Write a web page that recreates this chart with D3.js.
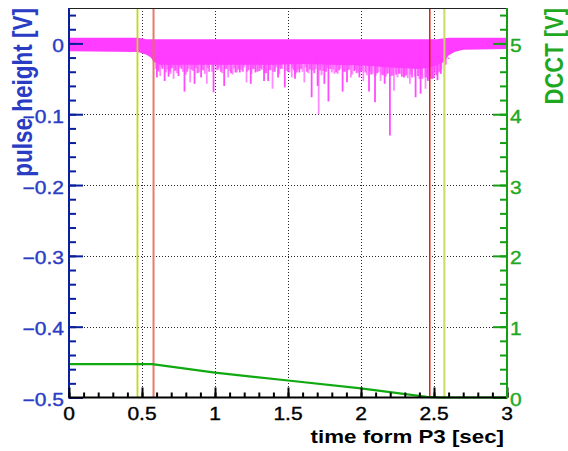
<!DOCTYPE html>
<html><head><meta charset="utf-8">
<script src="https://cdn.jsdelivr.net/npm/d3@7"></script>
<style>html,body{margin:0;padding:0;background:#fff;}svg{display:block;}</style>
</head><body>
<svg id="c" width="568" height="451"></svg>
<script>
// ---------- data ----------
const xTicks = [0, 0.5, 1, 1.5, 2, 2.5, 3];
const xTickLabels = ["0", "0.5", "1", "1.5", "2", "2.5", "3"];
const yLTicks = [0, -0.1, -0.2, -0.3, -0.4, -0.5];
const yLTickLabels = ["0", "\u22120.1", "\u22120.2", "\u22120.3", "\u22120.4", "\u22120.5"];
const yRTicks = [0, 1, 2, 3, 4, 5];
const yRTickLabels = ["0", "1", "2", "3", "4", "5"];

// pulse height envelope (band) [sec], [V]
const envT  = [0, 0.47, 0.50, 0.53, 0.56, 0.58, 0.62, 0.8, 1.0, 1.2, 1.4, 1.6, 1.8, 2.0, 2.2, 2.4, 2.47, 2.52, 2.56, 2.6, 2.64, 2.7, 3.0];
const envHi = [0.008, 0.008, 0.007, 0.006, 0.006, 0.006, 0.006, 0.006, 0.006, 0.006, 0.006, 0.006, 0.006, 0.006, 0.006, 0.006, 0.006, 0.006, 0.007, 0.008, 0.008, 0.008, 0.008];
const envLo = [-0.011, -0.012, -0.014, -0.016, -0.02, -0.026, -0.030, -0.030, -0.030, -0.030, -0.030, -0.029, -0.030, -0.031, -0.034, -0.036, -0.034, -0.031, -0.027, -0.017, -0.012, -0.009, -0.008];

// pulse height: prominent spikes
const spikeT = [0.602, 0.625, 0.655, 0.682, 0.716, 0.750, 0.791, 0.830, 0.860, 0.905, 0.944, 0.990,
  1.063, 1.090, 1.140, 1.170, 1.216, 1.245, 1.277, 1.307, 1.336, 1.364, 1.394, 1.432, 1.478,
  1.526, 1.548, 1.578, 1.612, 1.662, 1.703, 1.710, 1.749, 1.777, 1.818, 1.874, 1.904, 1.931, 1.954, 1.989,
  2.016, 2.055, 2.096, 2.134, 2.162, 2.198, 2.226, 2.260, 2.294, 2.335, 2.374, 2.408, 2.442, 2.458, 2.49,
  2.504, 2.524, 2.547, 2.566];
const spikeV = [-0.048, -0.046, -0.053, -0.047, -0.050, -0.046, -0.068, -0.055, -0.057, -0.048, -0.057, -0.069,
  -0.060, -0.048, -0.041, -0.041, -0.055, -0.057, -0.041, -0.039, -0.053, -0.053, -0.064, -0.048, -0.062,
  -0.048, -0.050, -0.041, -0.055, -0.076, -0.060, -0.100, -0.057, -0.082, -0.043, -0.068, -0.055, -0.048, -0.039, -0.048,
  -0.053, -0.068, -0.083, -0.053, -0.057, -0.130, -0.067, -0.043, -0.048, -0.057, -0.076, -0.071, -0.064, -0.053, -0.05,
  -0.039, -0.052, -0.043, -0.027];
// pulse height: smaller fringe spikes
const fringeT = [0.61, 0.64, 0.69, 0.70, 0.73, 0.77, 0.81, 0.84, 0.88, 0.92, 0.96, 1.02, 1.04, 1.08, 1.11, 1.16, 1.19, 1.23, 1.26, 1.29, 1.32, 1.35, 1.38, 1.41, 1.45, 1.50,
  1.54, 1.56, 1.59, 1.63, 1.65, 1.68, 1.72, 1.76, 1.79, 1.83, 1.85, 1.89, 1.92, 1.97, 2.00, 2.03, 2.07, 2.11, 2.15, 2.18, 2.21, 2.24, 2.28, 2.31, 2.35, 2.39, 2.42, 2.45, 2.48, 2.52, 2.54, 2.58, 2.60];
const fringeV = [-0.038, -0.036, -0.040, -0.035, -0.038, -0.036, -0.040, -0.037, -0.042, -0.038, -0.040, -0.037, -0.040, -0.036, -0.042, -0.037, -0.040, -0.038, -0.036, -0.040, -0.037, -0.042, -0.038, -0.040, -0.036, -0.040,
  -0.038, -0.041, -0.036, -0.040, -0.037, -0.042, -0.038, -0.040, -0.036, -0.041, -0.038, -0.040, -0.037, -0.042, -0.040, -0.041, -0.044, -0.042, -0.045, -0.043, -0.046, -0.044, -0.047, -0.045, -0.048, -0.046, -0.050, -0.048, -0.050, -0.045, -0.040, -0.030, -0.022];
const fringe2T = [0.595, 0.615, 0.635, 0.665, 0.675, 0.695, 0.71, 0.725, 0.74, 0.76, 0.78, 0.80, 0.82, 0.85, 0.87, 0.89, 0.91, 0.93, 0.95, 0.98,
  1.01, 1.03, 1.05, 1.07, 1.10, 1.12, 1.13, 1.15, 1.18, 1.20, 1.22, 1.25, 1.27, 1.30, 1.31, 1.34, 1.37, 1.40, 1.42, 1.44,
  1.46, 1.49, 1.51, 1.53, 1.55, 1.57, 1.60, 1.62, 1.64, 1.67, 1.69, 1.73, 1.74, 1.77, 1.80, 1.81, 1.84, 1.86, 1.88, 1.91,
  1.94, 1.96, 1.98, 2.01, 2.04, 2.06, 2.08, 2.10, 2.12, 2.14, 2.17, 2.19, 2.22, 2.25, 2.27, 2.30, 2.32, 2.34, 2.37, 2.40,
  2.41, 2.44, 2.46, 2.47, 2.50, 2.51, 2.53, 2.55];
const fringe2V = [-0.036, -0.040, -0.034, -0.041, -0.037, -0.043, -0.035, -0.039, -0.042, -0.034, -0.040, -0.044, -0.036, -0.039, -0.035, -0.041, -0.037, -0.043, -0.035, -0.040,
  -0.038, -0.034, -0.042, -0.036, -0.039, -0.044, -0.035, -0.041, -0.037, -0.034, -0.040, -0.043, -0.036, -0.039, -0.035, -0.042, -0.037, -0.040, -0.034, -0.043,
  -0.036, -0.039, -0.041, -0.035, -0.044, -0.037, -0.040, -0.034, -0.042, -0.038, -0.036, -0.045, -0.039, -0.035, -0.041, -0.037, -0.043, -0.036, -0.040, -0.038,
  -0.044, -0.037, -0.041, -0.039, -0.045, -0.040, -0.043, -0.046, -0.041, -0.044, -0.047, -0.042, -0.045, -0.048, -0.043, -0.046, -0.049, -0.044, -0.047, -0.050,
  -0.045, -0.048, -0.051, -0.046, -0.049, -0.044, -0.041, -0.036];

// DCCT
const dcctT = [0, 0.57, 1.0, 1.5, 2.0, 2.45, 2.55, 3.0];
const dcctV = [0.47, 0.47, 0.35, 0.24, 0.13, 0.01, 0.0, 0.0];

// marker lines [sec]
const markerT = [0.469, 0.579, 2.471, 2.571];

// ---------- drawing ----------
const svg = d3.select("#c");
const L = 69, R = 507, T = 8, B = 397.5;
const x = d3.scaleLinear([0, 3], [L, R]);
const yL = d3.scaleLinear([-0.5, 0.05], [B, T]);
const yR = d3.scaleLinear([0, 5.5], [B, T]);

const FONT = "'Liberation Sans', Arial, Helvetica, sans-serif";
const SX = 1.2;
const navy = "#0a1f9c", blueTxt = "#2a3cc4", green = "#12a012", greenTxt = "#1fa81f";

function stext(px, py, str, o) {
  const g = svg.append("g").attr("transform", `translate(${px},${py}) scale(${SX},1)` + (o.rot ? ` rotate(${o.rot})` : ""));
  g.append("text").attr("x", 0).attr("y", 0)
    .attr("text-anchor", o.anchor || "start")
    .attr("font-family", FONT).attr("font-size", o.size).attr("font-weight", o.weight || "normal")
    .attr("fill", o.color || "#000")
    .attr("stroke", o.color || "#000").attr("stroke-width", o.sw || 0)
    .text(str);
}

// grid
const grid = svg.append("g").attr("stroke", "#000").attr("stroke-width", 1).attr("stroke-dasharray", "1,2").attr("opacity", 0.85);
xTicks.filter(d => d > 0 && d < 3).forEach(d => {
  grid.append("line").attr("x1", Math.round(x(d)) + 0.5).attr("x2", Math.round(x(d)) + 0.5).attr("y1", T).attr("y2", B);
});
yLTicks.filter(d => d > -0.5).forEach(d => {
  grid.append("line").attr("y1", Math.round(yL(d)) + 0.5).attr("y2", Math.round(yL(d)) + 0.5).attr("x1", L).attr("x2", R);
});

// pulse height band
const mag = "#ff3cff";
const env = envT.map((t, i) => ({t, hi: envHi[i], lo: envLo[i]}));
svg.append("path").datum(env)
  .attr("d", d3.area().x(d => x(d.t)).y0(d => yL(d.lo)).y1(d => yL(d.hi)))
  .attr("fill", mag);
const sp = svg.append("g").attr("stroke", mag);
fringe2T.forEach((t, i) => {
  sp.append("line").attr("x1", x(t)).attr("x2", x(t)).attr("y1", yL(-0.02)).attr("y2", yL(fringe2V[i]))
    .attr("stroke-width", 2).attr("opacity", 0.6);
});
fringeT.forEach((t, i) => {
  sp.append("line").attr("x1", x(t)).attr("x2", x(t)).attr("y1", yL(-0.02)).attr("y2", yL(fringeV[i]))
    .attr("stroke-width", 2).attr("opacity", 0.8);
});
spikeT.forEach((t, i) => {
  sp.append("line").attr("x1", x(t)).attr("x2", x(t)).attr("y1", yL(-0.02)).attr("y2", yL(spikeV[i]))
    .attr("stroke-width", 1.8).attr("opacity", i % 3 === 1 ? 0.6 : 0.92);
});

// marker lines
const mk = svg.append("g");
[["#c2d81c", 1.8, 1], ["#e46e5c", 2, 0.9], ["#e0200a", 1.5, 1], ["#c8dc58", 2.2, 0.9]].forEach((s, i) => {
  mk.append("line").attr("x1", x(markerT[i])).attr("x2", x(markerT[i])).attr("y1", T).attr("y2", B)
    .attr("stroke", s[0]).attr("stroke-width", s[1]).attr("opacity", s[2]);
});

// DCCT line
svg.append("path").datum(dcctT.map((t, i) => [t, dcctV[i]]))
  .attr("d", d3.line().x(d => x(d[0])).y(d => yR(d[1])))
  .attr("fill", "none").attr("stroke", "#10aa10").attr("stroke-width", 2.2);

// frame top
svg.append("line").attr("x1", L).attr("x2", R).attr("y1", T + 0.5).attr("y2", T + 0.5).attr("stroke", "#222").attr("stroke-width", 1);

// left axis
const ga = svg.append("g");
const yLMinor = d3.range(-0.5, 0.0401, 0.02).map(v => Math.round(v * 100) / 100);
ga.append("g").attr("transform", `translate(${L},0)`)
  .call(d3.axisRight(yL).tickValues(yLMinor).tickSize(7).tickFormat("").tickSizeOuter(0))
  .call(g => { g.select(".domain").remove(); g.selectAll("line").attr("stroke", navy).attr("stroke-width", 2); });
ga.append("g").attr("transform", `translate(${L},0)`)
  .call(d3.axisRight(yL).tickValues(yLTicks).tickSize(14).tickFormat("").tickSizeOuter(0))
  .call(g => { g.select(".domain").remove(); g.selectAll("line").attr("stroke", navy).attr("stroke-width", 2); });
ga.append("line").attr("x1", L).attr("x2", L).attr("y1", T).attr("y2", B + 1).attr("stroke", navy).attr("stroke-width", 2);

// right axis
const yRMinor = d3.range(0, 5.41, 0.2).map(v => Math.round(v * 10) / 10);
ga.append("g").attr("transform", `translate(${R},0)`)
  .call(d3.axisLeft(yR).tickValues(yRMinor).tickSize(7).tickFormat("").tickSizeOuter(0))
  .call(g => { g.select(".domain").remove(); g.selectAll("line").attr("stroke", green).attr("stroke-width", 2); });
ga.append("g").attr("transform", `translate(${R},0)`)
  .call(d3.axisLeft(yR).tickValues(yRTicks).tickSize(14).tickFormat("").tickSizeOuter(0))
  .call(g => { g.select(".domain").remove(); g.selectAll("line").attr("stroke", green).attr("stroke-width", 2); });

// bottom axis
const xMinor = d3.range(0, 3.001, 0.1).map(v => Math.round(v * 10) / 10);
ga.append("g").attr("transform", `translate(0,${B})`)
  .call(d3.axisTop(x).tickValues(xMinor).tickSize(5).tickFormat("").tickSizeOuter(0))
  .call(g => { g.select(".domain").remove(); g.selectAll("line").attr("stroke", "#000").attr("stroke-width", 2); });
ga.append("g").attr("transform", `translate(0,${B})`)
  .call(d3.axisTop(x).tickValues(xTicks).tickSize(10).tickFormat("").tickSizeOuter(0))
  .call(g => { g.select(".domain").remove(); g.selectAll("line").attr("stroke", "#000").attr("stroke-width", 2); });
ga.append("line").attr("x1", L).attr("x2", R).attr("y1", B).attr("y2", B).attr("stroke", "#000").attr("stroke-width", 2);
ga.append("line").attr("x1", R).attr("x2", R).attr("y1", T).attr("y2", B + 1).attr("stroke", green).attr("stroke-width", 2);

// tick labels
yLTicks.forEach((v, i) => stext(64, yL(v) + 8.5, yLTickLabels[i], {anchor: "end", size: 17.5, color: blueTxt, sw: 0.35}));
yRTicks.forEach((v, i) => stext(510, yR(v) + 8.5, yRTickLabels[i], {anchor: "start", size: 17.5, color: greenTxt, sw: 0.35}));
xTicks.forEach((v, i) => stext(x(v), 419.5, xTickLabels[i], {anchor: "middle", size: 17.5, color: "#000", sw: 0.35}));

// axis titles
stext(504, 443, "time form P3 [sec]", {anchor: "end", size: 18.6, weight: "bold", color: "#000"});
stext(32, 8, "pulse height [V]", {anchor: "end", size: 22.5, weight: "bold", color: blueTxt, rot: -90});
stext(563, 8, "DCCT [V]", {anchor: "end", size: 22, weight: "bold", color: greenTxt, rot: -90});
</script>
</body></html>
